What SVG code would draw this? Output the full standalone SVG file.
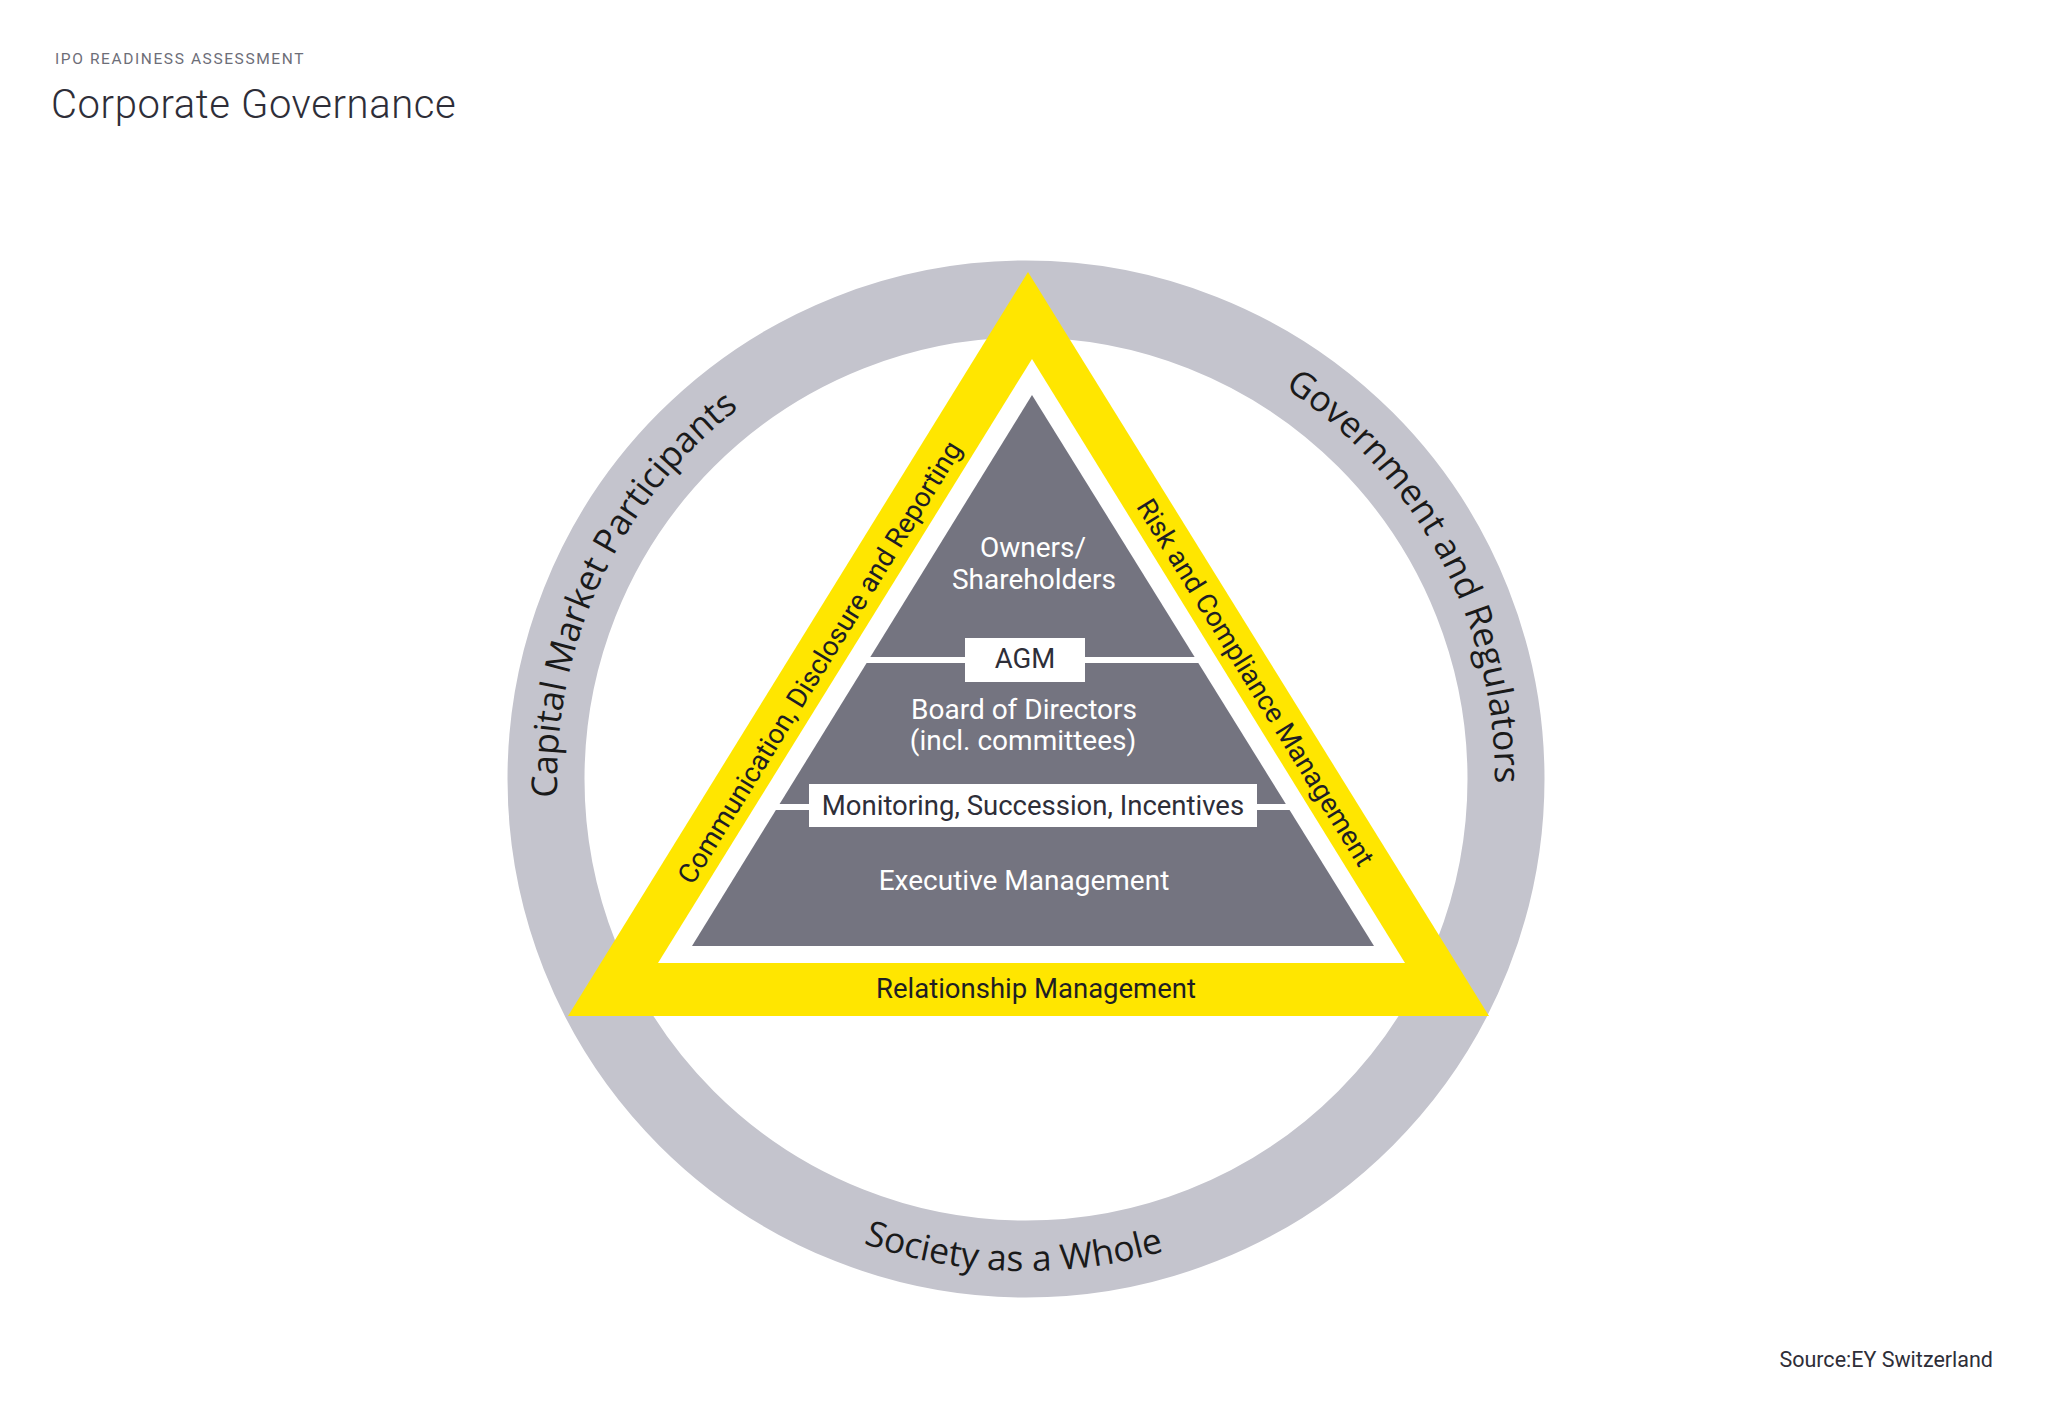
<svg xmlns="http://www.w3.org/2000/svg" xmlns:xlink="http://www.w3.org/1999/xlink" width="2048" height="1422" viewBox="0 0 2048 1422">
  <style>
    .ring-label { font-family: "Open Sans", "Noto Sans", "DejaVu Sans", sans-serif; font-size: 35.5px; fill: #1a1a1a; }
    .pyr { font-family: Roboto, "Liberation Sans", sans-serif; font-size: 28px; fill: #ffffff; text-anchor: middle; }
    .box { fill: #ffffff; }
    .box-label { font-family: Roboto, "Liberation Sans", sans-serif; font-size: 27.5px; fill: #2e2e38; text-anchor: middle; }
    .band-label { font-family: Roboto, "Liberation Sans", sans-serif; font-size: 27.5px; fill: #1e1e24; text-anchor: middle; }
    .sep { stroke: #ffffff; stroke-width: 6; fill: none; }
  </style>
  <defs>
    <path id="arcLeft" d="M 641.8 1048 A 469 469 0 0 1 985.1 311.8"/>
    <path id="arcRight" d="M 1042.4 310.3 A 469 469 0 0 1 1423.7 1027.5"/>
    <path id="arcBottom" d="M 593.6 1013.8 A 492 492 0 0 0 1445.5 1036.1"/>
  </defs>
  <rect width="2048" height="1422" fill="#ffffff"/>

  <g id="header">
    <text x="55" y="64" font-family="Roboto, 'Liberation Sans', sans-serif" font-size="15.5" letter-spacing="1.6" fill="#6d6e78">IPO READINESS ASSESSMENT</text>
    <text x="51" y="118" font-family="Roboto, 'Liberation Sans', sans-serif" font-size="40" font-weight="300" letter-spacing="0.6" fill="#2e2e38">Corporate Governance</text>
  </g>

  <g id="stakeholder-ring">
    <circle cx="1026" cy="779" r="480" fill="none" stroke="#c4c4cd" stroke-width="77"/>
    <text class="ring-label"><textPath xlink:href="#arcLeft" href="#arcLeft" startOffset="50%" text-anchor="middle">Capital Market Participants</textPath></text>
    <text class="ring-label"><textPath xlink:href="#arcRight" href="#arcRight" startOffset="50%" text-anchor="middle">Government and Regulators</textPath></text>
    <text class="ring-label"><textPath xlink:href="#arcBottom" href="#arcBottom" startOffset="50%" text-anchor="middle">Society as a Whole</textPath></text>
  </g>

  <g id="yellow-frame">
    <polygon points="1028,272 1489,1016 568,1016" fill="#ffe600"/>
    <polygon points="1032,359 1405,963 658,963" fill="#ffffff"/>
    <text class="band-label" transform="translate(819,662) rotate(-58.3)" x="0" y="10">Communication, Disclosure and Reporting</text>
    <text class="band-label" transform="translate(1256,682) rotate(58.3)" x="0" y="10">Risk and Compliance Management</text>
    <text class="band-label" x="1036" y="998">Relationship Management</text>
  </g>

  <g id="pyramid">
    <polygon points="1032,395 1374,946 692,946" fill="#747480"/>
  </g>

  <g id="connectors">
    <line class="sep" x1="850" y1="660" x2="1214" y2="660"/>
    <line class="sep" x1="760" y1="807" x2="1304" y2="807"/>
  </g>

  <g id="owners">
    <text class="pyr" x="1033" y="557">Owners/</text>
    <text class="pyr" x="1034" y="589">Shareholders</text>
  </g>

  <g id="agm">
    <rect class="box" x="965" y="638" width="120" height="44"/>
    <text class="box-label" x="1025" y="668" font-size="25">AGM</text>
  </g>

  <g id="board">
    <text class="pyr" x="1024" y="719">Board of Directors</text>
    <text class="pyr" x="1023" y="750">(incl. committees)</text>
  </g>

  <g id="monitoring">
    <rect class="box" x="809" y="784" width="448" height="43"/>
    <text class="box-label" x="1033" y="815">Monitoring, Succession, Incentives</text>
  </g>

  <g id="executive">
    <text class="pyr" x="1024" y="890">Executive Management</text>
  </g>

  <g id="source">
    <text x="1993" y="1367" text-anchor="end" font-family="Roboto, 'Liberation Sans', sans-serif" font-size="21.5" fill="#2e2e38">Source:EY Switzerland</text>
  </g>
</svg>
